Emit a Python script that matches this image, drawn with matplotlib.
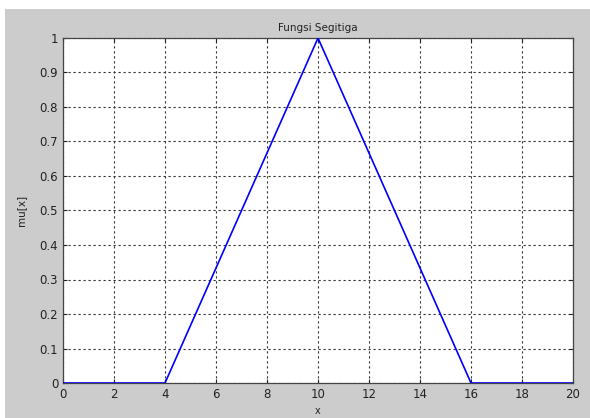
import matplotlib
matplotlib.use("Agg")
import matplotlib.pyplot as plt
from matplotlib.patches import Rectangle

# triangular membership function a=4, b=10, c=16
x_pts = [0, 4, 10, 16, 20]
mu_pts = [0, 0, 1, 0, 0]
x_ticks = [0, 2, 4, 6, 8, 10, 12, 14, 16, 18, 20]
y_ticks = [0, 0.1, 0.2, 0.3, 0.4, 0.5, 0.6, 0.7, 0.8, 0.9, 1]

fig = plt.figure(figsize=(5.9, 4.18), dpi=100, facecolor="white")
fig.patches.append(Rectangle((5 / 590, 0), 1, 1 - 9 / 418, transform=fig.transFigure,
                             facecolor="#cccccc", edgecolor="none", zorder=-1))
ax = fig.add_axes([63 / 590, 1 - 383 / 418, (573 - 63) / 590, (383 - 38) / 418])

ax.plot(x_pts, mu_pts, color="#0000ff", lw=1.2, zorder=3)
ax.set_xlim(0, 20)
ax.set_ylim(0, 1)
ax.set_xticks(x_ticks)
ax.set_yticks(y_ticks)
ax.set_yticklabels([f"{v:g}" for v in y_ticks])
ax.grid(True, color="#333333", linestyle=(0, (2, 2.5)), linewidth=0.8)
ax.tick_params(labelsize=8.5, direction="in", length=3, colors="#222222",
               top=True, right=True)
for s in ax.spines.values():
    s.set_linewidth(0.9)
    s.set_color("#444444")

ax.set_title("Fungsi Segitiga", fontsize=7.5, pad=5, color="#222222")
ax.set_ylabel("mu[x]", fontsize=7.5, labelpad=10, color="#222222")
ax.set_xlabel("x", fontsize=7, labelpad=4, color="#222222")

fig.savefig("out.png", dpi=100, facecolor=fig.get_facecolor())
